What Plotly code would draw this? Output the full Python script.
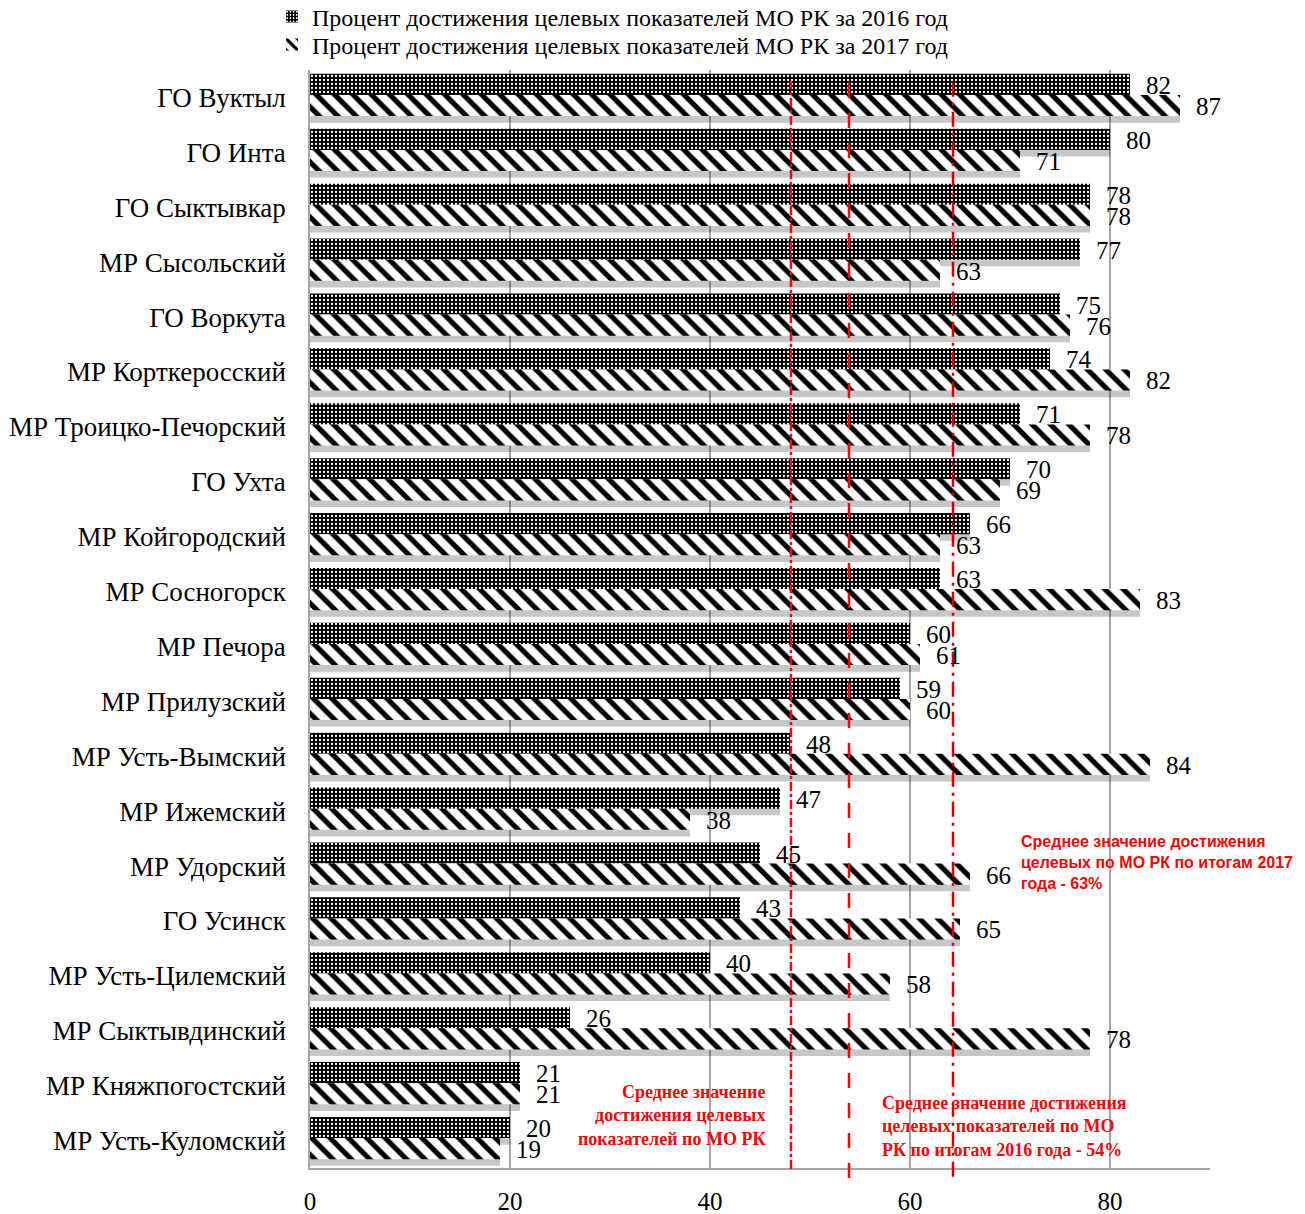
"""
Target indicators achievement by municipalities of Komi Republic, 2016 vs 2017
"""
import plotly.graph_objects as go

# ── Data ───────────────────────────────────────────────────────────────────
municipalities = [
    "ГО Вуктыл", "ГО Инта", "ГО Сыктывкар", "МР Сысольский", "ГО Воркута",
    "МР Корткеросский", "МР Троицко-Печорский", "ГО Ухта", "МР Койгородский",
    "МР Сосногорск", "МР Печора", "МР Прилузский", "МР Усть-Вымский",
    "МР Ижемский", "МР Удорский", "ГО Усинск", "МР Усть-Цилемский",
    "МР Сыктывдинский", "МР Княжпогостский", "МР Усть-Куломский",
]
pct_2016 = [82, 80, 78, 77, 75, 74, 71, 70, 66, 63, 60, 59, 48, 47, 45, 43, 40, 26, 21, 20]
pct_2017 = [87, 71, 78, 63, 76, 82, 78, 69, 63, 83, 61, 60, 84, 38, 66, 65, 58, 78, 21, 19]

name_2016 = "Процент достижения целевых показателей МО РК за 2016 год"
name_2017 = "Процент достижения целевых показателей МО РК за 2017 год"

# reference lines (as drawn on the chart)
mean_overall = 48.1
mean_2016 = 53.9
mean_2017 = 64.3

SERIF = "Liberation Serif, Times New Roman, serif"
SANS = "Liberation Sans, Arial, sans-serif"
BAR_W = 0.385
OFF_16 = -0.43
OFF_17 = OFF_16 + BAR_W

fig = go.Figure()

# ── Soft shadows under the bars ───────────────────────────────────────────
for vals, off in [(pct_2016, OFF_16), (pct_2017, OFF_17)]:
    fig.add_trace(go.Bar(
        x=vals, y=municipalities, orientation="h",
        offset=off + 0.12, width=BAR_W,
        marker=dict(color="rgba(0,0,0,0.22)", line=dict(width=0)),
        showlegend=False, hoverinfo="skip",
    ))

# ── Main bars ──────────────────────────────────────────────────────────────
fig.add_trace(go.Bar(
    x=pct_2016, y=municipalities, orientation="h", name=name_2016,
    offset=OFF_16, width=BAR_W, legend="legend",
    marker=dict(
        color="black", line=dict(width=0),
        pattern=dict(shape=".", fgcolor="white", bgcolor="black",
                     size=4, solidity=0.25, fillmode="replace"),
    ),
))
fig.add_trace(go.Bar(
    x=pct_2017, y=municipalities, orientation="h", name=name_2017,
    offset=OFF_17, width=BAR_W, legend="legend2",
    marker=dict(
        color="black", line=dict(width=0),
        pattern=dict(shape="\\", fgcolor="black", bgcolor="white",
                     size=13, solidity=0.4, fillmode="replace"),
    ),
))

# ── Value labels ───────────────────────────────────────────────────────────
annotations = []
for cat, v16, v17 in zip(municipalities, pct_2016, pct_2017):
    annotations.append(dict(x=v16, y=cat, text=str(v16), showarrow=False,
                            xanchor="left", xshift=14, yshift=12,
                            font=dict(family=SERIF, size=25, color="black")))
    annotations.append(dict(x=v17, y=cat, text=str(v17), showarrow=False,
                            xanchor="left", xshift=14, yshift=-9,
                            font=dict(family=SERIF, size=25, color="black")))

# ── Mean lines ─────────────────────────────────────────────────────────────
shapes = [
    dict(type="line", xref="x", yref="paper", x0=mean_overall, x1=mean_overall,
         y0=-0.001, y1=0.99, line=dict(color="#ff0000", width=2.5, dash="dashdot")),
    dict(type="line", xref="x", yref="paper", x0=mean_2016, x1=mean_2016,
         y0=-0.009, y1=0.988, line=dict(color="#ff0000", width=2.5, dash="longdash")),
    dict(type="line", xref="x", yref="paper", x0=mean_2017, x1=mean_2017,
         y0=-0.008, y1=0.988, line=dict(color="#d00000", width=2.5, dash="longdashdot")),
]

annotations += [
    dict(xref="paper", yref="paper", x=0.508, y=0.048, xanchor="right", yanchor="middle",
         align="right", showarrow=False,
         text="<b>Среднее значение<br>достижения целевых<br>показателей по МО РК</b>",
         font=dict(family=SERIF, size=18, color="#ff0000")),
    dict(xref="paper", yref="paper", x=0.633, y=0.038, xanchor="left", yanchor="middle",
         align="left", showarrow=False,
         text="<b>Среднее значение достижения<br>целевых показателей по МО<br>РК по итогам 2016 года - 54%</b>",
         font=dict(family=SERIF, size=18, color="#ff0000")),
    dict(xref="paper", yref="paper", x=0.788, y=0.278, xanchor="left", yanchor="middle",
         align="left", showarrow=False,
         text="<b>Среднее значение достижения<br>целевых по МО РК по итогам 2017<br>года - 63%</b>",
         font=dict(family=SANS, size=16, color="#ff0000")),
]

legend_common = dict(xanchor="left", yanchor="middle", traceorder="normal",
                     font=dict(family=SERIF, size=24), bgcolor="rgba(0,0,0,0)")

fig.update_layout(
    barmode="overlay",
    width=1297, height=1206,
    paper_bgcolor="white", plot_bgcolor="white",
    margin=dict(l=302, r=95, t=62, b=46, autoexpand=False),
    font=dict(family=SERIF, size=22, color="black"),
    showlegend=True,
    legend=dict(x=-0.0422, y=1.0483, **legend_common),
    legend2=dict(x=-0.0422, y=1.0228, **legend_common),
    shapes=shapes,
    annotations=annotations,
)
fig.update_xaxes(
    range=[0, 90], dtick=20, showgrid=True, gridcolor="#a6a6a6", gridwidth=1.5,
    zeroline=False, showline=True, linecolor="#a6a6a6", linewidth=1.5,
    ticks="", ticklabelstandoff=10, tickfont=dict(family=SERIF, size=25),
)
fig.update_yaxes(
    type="category", range=[19.5, -0.5], showgrid=False, zeroline=False,
    showline=True, linecolor="#a6a6a6", linewidth=1.5,
    ticks="", ticklabelstandoff=17, tickfont=dict(family=SERIF, size=27),
)

fig.write_html("out.html")
